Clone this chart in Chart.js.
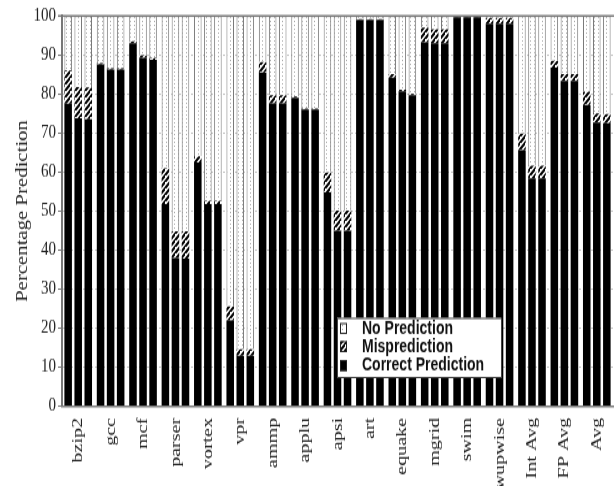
<!DOCTYPE html>
<html>
<head>
<meta charset="utf-8">
<script src="https://cdn.jsdelivr.net/npm/chart.js@4.4.1/dist/chart.umd.min.js"></script>
<style>
  html, body { margin: 0; padding: 0; background: #fff; }
  /* the figure is drawn at its native height and displayed stretched vertically */
  #c { display: block; width: 614px; height: 486px; }
</style>
</head>
<body>
<canvas id="c" width="614" height="374" style="width:614px;height:486px"></canvas>
<script>
// Benchmarks along the x axis
const categories = ['bzip2', 'gcc', 'mcf', 'parser', 'vortex', 'vpr', 'ammp', 'applu', 'apsi',
  'art', 'equake', 'mgrid', 'swim', 'wupwise', 'Int Avg', 'FP Avg', 'Avg'];

// Three predictor configurations per benchmark (percent of predictions)
const correct1 = [77.5, 87.6, 93.0, 51.8, 62.5, 22.0, 85.5, 79.0, 54.8, 99.0, 84.2, 93.3, 99.7, 98.0, 65.6, 86.8, 77.2];
const mispred1 = [8.5, 0.3, 0.5, 9.2, 1.5, 3.6, 2.7, 0.4, 5.1, 0.2, 0.9, 3.7, 0.2, 1.5, 4.3, 1.7, 3.4];
const noPred1  = [14.0, 12.1, 6.5, 39.0, 36.0, 74.4, 11.8, 20.6, 40.1, 0.8, 14.9, 3.0, 0.1, 0.5, 30.1, 11.5, 19.4];

const correct2 = [73.8, 86.3, 89.3, 38.0, 51.8, 12.9, 77.6, 76.0, 45.0, 99.0, 80.7, 93.0, 99.7, 98.0, 58.4, 83.4, 72.7];
const mispred2 = [8.0, 0.3, 0.6, 6.8, 0.8, 1.7, 2.1, 0.3, 5.1, 0.2, 0.4, 3.6, 0.2, 1.5, 3.2, 1.7, 2.3];
const noPred2  = [18.2, 13.4, 10.1, 55.2, 47.4, 85.4, 20.3, 23.7, 49.9, 0.8, 18.9, 3.4, 0.1, 0.5, 38.4, 14.9, 25.0];

const correct3 = [73.5, 86.3, 88.8, 37.8, 51.8, 12.9, 77.6, 76.0, 45.0, 99.0, 79.7, 93.0, 99.7, 98.0, 58.4, 83.4, 72.5];
const mispred3 = [8.2, 0.3, 0.5, 7.0, 0.8, 1.7, 2.1, 0.3, 5.1, 0.2, 0.3, 3.6, 0.2, 1.5, 3.2, 1.7, 2.4];
const noPred3  = [18.3, 13.4, 10.7, 55.2, 47.4, 85.4, 20.3, 23.7, 49.9, 0.8, 20.0, 3.4, 0.1, 0.5, 38.4, 14.9, 25.1];

const legendLabels = ['No Prediction', 'Misprediction', 'Correct Prediction'];
const yTicks = [0, 10, 20, 30, 40, 50, 60, 70, 80, 90, 100];

// Fill patterns: dotted white for "no prediction", diagonal hatch for mispredictions
function dotPattern() {
  const t = document.createElement('canvas');
  t.width = 4; t.height = 3;
  const g = t.getContext('2d');
  g.fillStyle = '#fff'; g.fillRect(0, 0, 4, 3);
  g.fillStyle = '#aaa'; g.fillRect(2, 1, 1, 1);
  return g.createPattern(t, 'repeat');
}
function hatchPattern() {
  const s = 5;
  const t = document.createElement('canvas');
  t.width = s; t.height = s;
  const g = t.getContext('2d');
  g.fillStyle = '#fff'; g.fillRect(0, 0, s, s);
  g.strokeStyle = '#000'; g.lineWidth = 2;
  g.beginPath();
  g.moveTo(-s, s * 2); g.lineTo(s * 2, -s);
  g.moveTo(-s * 2, s); g.lineTo(s, -s * 2);
  g.moveTo(0, s * 2); g.lineTo(s * 2, 0);
  g.stroke();
  return g.createPattern(t, 'repeat');
}
const DOTS = dotPattern();
const HATCH = hatchPattern();

const configs = [
  [correct1, mispred1, noPred1],
  [correct2, mispred2, noPred2],
  [correct3, mispred3, noPred3]
];

const datasets = [];
configs.forEach((cfg, k) => {
  datasets.push({ label: legendLabels[2], data: cfg[0], stack: 's' + k,
    backgroundColor: '#000', borderWidth: 0 });
  datasets.push({ label: legendLabels[1], data: cfg[1], stack: 's' + k,
    backgroundColor: HATCH, borderColor: '#000', borderWidth: 0 });
  datasets.push({ label: legendLabels[0], data: cfg[2], stack: 's' + k,
    backgroundColor: DOTS, borderColor: '#777', borderWidth: 1, borderSkipped: 'bottom' });
});

// Top edge of the frame
const framePlugin = {
  id: 'frame',
  afterDraw(chart) {
    const { ctx, chartArea: a } = chart;
    ctx.save();
    ctx.strokeStyle = '#777';
    ctx.lineWidth = 1.5;
    ctx.beginPath();
    ctx.moveTo(a.left - 4, a.top);
    ctx.lineTo(a.right + 1, a.top);
    ctx.stroke();
    ctx.restore();
  }
};

// Boxed legend inside the plot
const boxLegend = {
  id: 'boxLegend',
  afterDraw(chart) {
    const ctx = chart.ctx;
    const x = 337, y = 244.5, w = 164, h = 45.5;
    ctx.save();
    ctx.fillStyle = '#fff';
    ctx.fillRect(x, y, w, h);
    ctx.strokeStyle = '#444';
    ctx.lineWidth = 1;
    ctx.strokeRect(x + 0.5, y + 0.5, w, h);
    const fills = [DOTS, HATCH, '#000'];
    const rows = [252.5, 266.5, 281];
    ctx.font = 'bold 14px "Liberation Sans", Arial, sans-serif';
    ctx.textBaseline = 'middle';
    legendLabels.forEach((lab, i) => {
      const cy = rows[i];
      ctx.fillStyle = fills[i];
      ctx.fillRect(340, cy - 4, 7, 8.5);
      ctx.strokeStyle = '#222';
      ctx.strokeRect(340.5, cy - 3.5, 6, 7.5);
      ctx.fillStyle = '#111';
      ctx.fillText(lab, 362, cy + 0.5);
    });
    ctx.restore();
  }
};

new Chart(document.getElementById('c'), {
  type: 'bar',
  data: { labels: categories, datasets },
  options: {
    responsive: false,
    animation: false,
    devicePixelRatio: 1,
    layout: { padding: { top: 12.3, right: 1, left: 0, bottom: 0 } },
    datasets: { bar: { categoryPercentage: 0.93, barPercentage: 0.75 } },
    plugins: { legend: { display: false }, tooltip: { enabled: false } },
    scales: {
      x: {
        stacked: true,
        grid: { display: false, drawTicks: false },
        border: { display: true, color: '#777', width: 1.5 },
        ticks: {
          minRotation: 90, maxRotation: 90, padding: 9, autoSkip: false,
          color: '#222', font: { family: '"Liberation Serif", "Times New Roman", serif', size: 15.5 }
        },
        afterFit(s) { s.height = 61.5; s.paddingLeft = 0; s.paddingRight = 0; }
      },
      y: {
        stacked: true,
        min: 0, max: 100,
        afterBuildTicks(s) { s.ticks = yTicks.map(v => ({ value: v })); },
        grid: { color: '#c4c4c4', lineWidth: 1, tickLength: 4, tickColor: '#777', tickBorderDash: [] },
        border: { display: true, color: '#777', width: 2, dash: [2, 2] },
        ticks: {
          padding: 2, color: '#222',
          font: { family: '"Liberation Serif", "Times New Roman", serif', size: 15 }
        },
        title: {
          display: true, text: 'Percentage Prediction', color: '#222',
          padding: { top: 13, bottom: 0 },
          font: { family: '"Liberation Serif", "Times New Roman", serif', size: 16 }
        },
        afterFit(s) { s.width = 62; }
      }
    }
  },
  plugins: [framePlugin, boxLegend]
});
</script>
</body>
</html>
